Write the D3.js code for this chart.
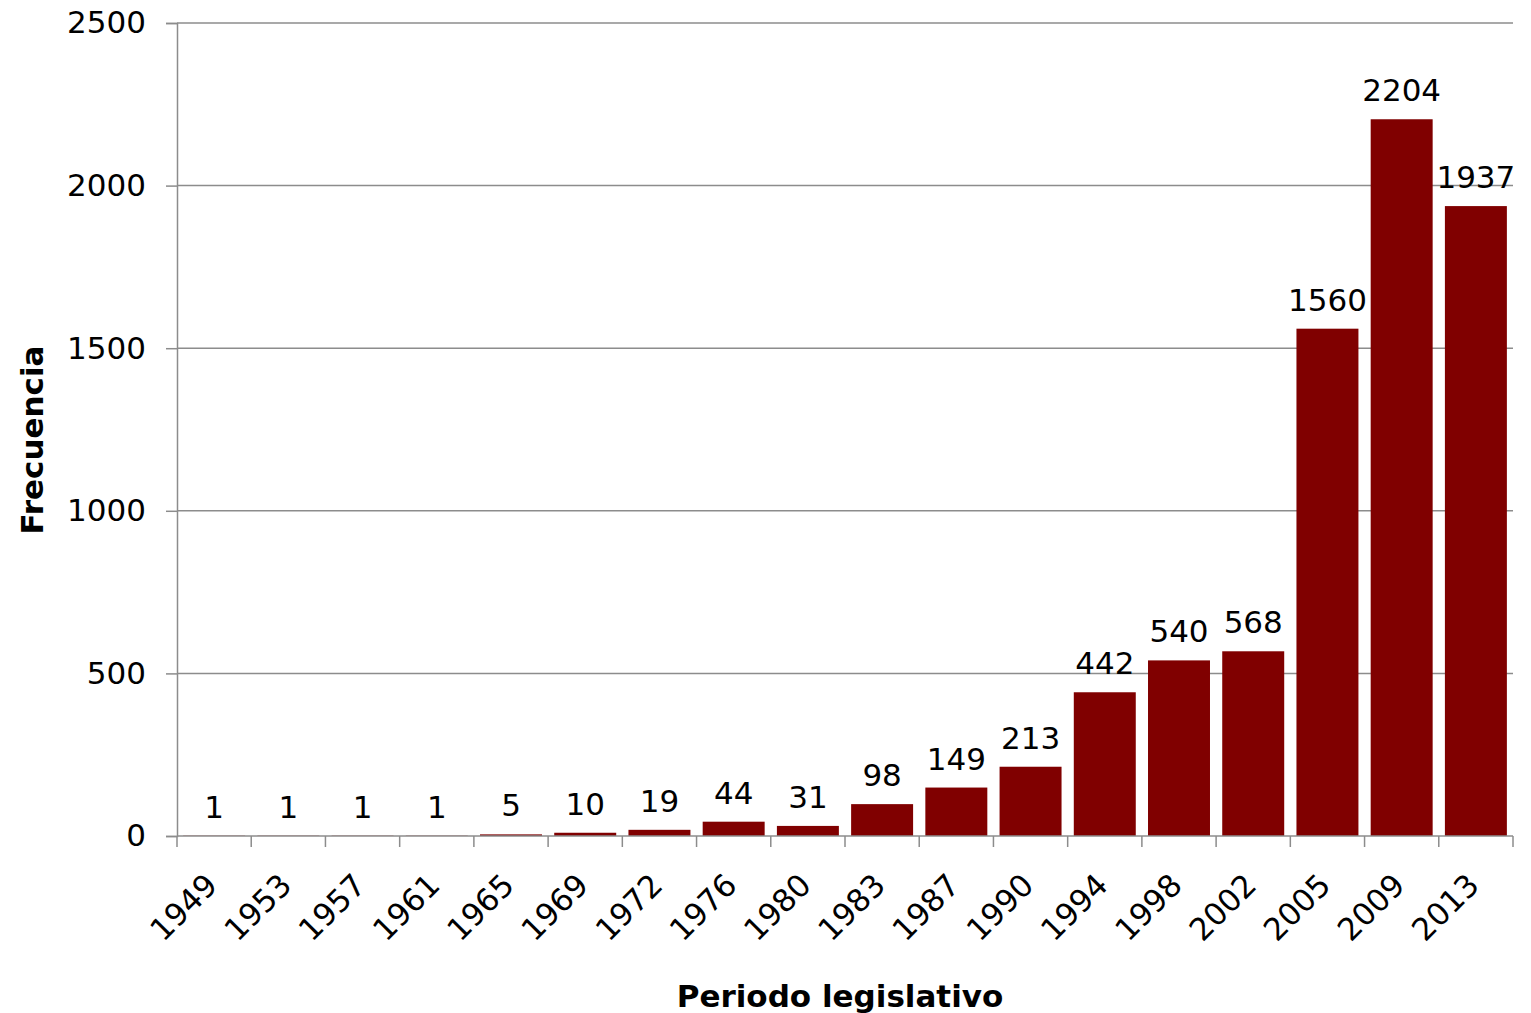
<!DOCTYPE html>
<html>
<head>
<meta charset="utf-8">
<script src="https://cdn.jsdelivr.net/npm/d3@7"></script>
<style>
  body { margin: 0; background: #fff; }
  text { font-family: "DejaVu Sans", Verdana, sans-serif; }
</style>
</head>
<body>
<div id="app"></div>
<script>
const WIDTH = 1531
const HEIGHT = 1013
const margin = { top: 23, right: 18, bottom: 177, left: 177 }
const FONT = 31

const periods = ['1949', '1953', '1957', '1961', '1965', '1969', '1972', '1976', '1980',
  '1983', '1987', '1990', '1994', '1998', '2002', '2005', '2009', '2013']
const counts = [1, 1, 1, 1, 5, 10, 19, 44, 31, 98, 149, 213, 442, 540, 568, 1560, 2204, 1937]
const yTicks = [0, 500, 1000, 1500, 2000, 2500]

const data = periods.map((p, i) => ({ period: p, value: counts[i] }))

const innerW = WIDTH - margin.left - margin.right
const innerH = HEIGHT - margin.top - margin.bottom

const x = d3.scaleBand()
  .domain(periods)
  .range([0, innerW])
  .paddingInner(0.165)
  .paddingOuter(0.0825)

const y = d3.scaleLinear()
  .domain([0, 2500])
  .range([innerH, 0])

const svg = d3.select('#app').append('svg')
  .attr('width', WIDTH)
  .attr('height', HEIGHT)

const vis = svg.append('g')
  .attr('transform', `translate(${margin.left}, ${margin.top})`)

// gridlines
vis.append('g')
  .selectAll('line')
  .data(yTicks.slice(1))
  .enter()
.append('line')
  .attr('x1', 0)
  .attr('x2', innerW)
  .attr('y1', d => y(d))
  .attr('y2', d => y(d))
  .attr('stroke', '#8c8c8c')
  .attr('stroke-width', 1.5)

// y axis
const yAxis = vis.append('g')
  .call(d3.axisLeft(y).tickValues(yTicks).tickFormat(d3.format('d')).tickSize(11).tickPadding(20))
yAxis.select('.domain').attr('stroke', '#8c8c8c').attr('stroke-width', 1.5)
yAxis.selectAll('.tick line').attr('stroke', '#8c8c8c').attr('stroke-width', 1.5)
yAxis.selectAll('.tick text')
  .attr('font-size', FONT)
  .attr('fill', '#000')
  .style('font-family', '"DejaVu Sans", Verdana, sans-serif')

// bars
vis.append('g')
  .selectAll('rect')
  .data(data)
  .enter()
.append('rect')
  .attr('x', d => x(d.period))
  .attr('width', x.bandwidth())
  .attr('y', d => y(d.value))
  .attr('height', d => innerH - y(d.value))
  .attr('fill', '#800000')

// value labels
vis.append('g')
  .selectAll('text')
  .data(data)
  .enter()
.append('text')
  .attr('x', d => x(d.period) + x.bandwidth() / 2)
  .attr('y', d => y(d.value) - 18)
  .attr('text-anchor', 'middle')
  .attr('font-size', FONT)
  .attr('fill', '#000')
  .text(d => d.value)

// x axis
const step = x.step()
const xAxis = vis.append('g')
  .attr('transform', `translate(0, ${innerH})`)
xAxis.append('line')
  .attr('x1', 0).attr('x2', innerW)
  .attr('stroke', '#8c8c8c').attr('stroke-width', 1.5)
xAxis.selectAll('line.tick')
  .data(d3.range(periods.length + 1))
  .enter()
.append('line')
  .attr('class', 'tick')
  .attr('x1', i => i * step)
  .attr('x2', i => i * step)
  .attr('y1', 0)
  .attr('y2', 11)
  .attr('stroke', '#8c8c8c')
  .attr('stroke-width', 1.5)
xAxis.selectAll('text')
  .data(periods)
  .enter()
.append('text')
  .attr('transform', d => `translate(${x(d) + x.bandwidth() / 2 + 5}, 51) rotate(-45)`)
  .attr('text-anchor', 'end')
  .attr('font-size', FONT)
  .attr('fill', '#000')
  .text(d => d)

// axis titles
svg.append('text')
  .attr('x', 840)
  .attr('y', 1007)
  .attr('text-anchor', 'middle')
  .attr('font-size', 31)
  .attr('font-weight', 'bold')
  .text('Periodo legislativo')

svg.append('text')
  .attr('transform', 'translate(43, 440) rotate(-90)')
  .attr('text-anchor', 'middle')
  .attr('font-size', 31)
  .attr('font-weight', 'bold')
  .text('Frecuencia')
</script>
</body>
</html>
